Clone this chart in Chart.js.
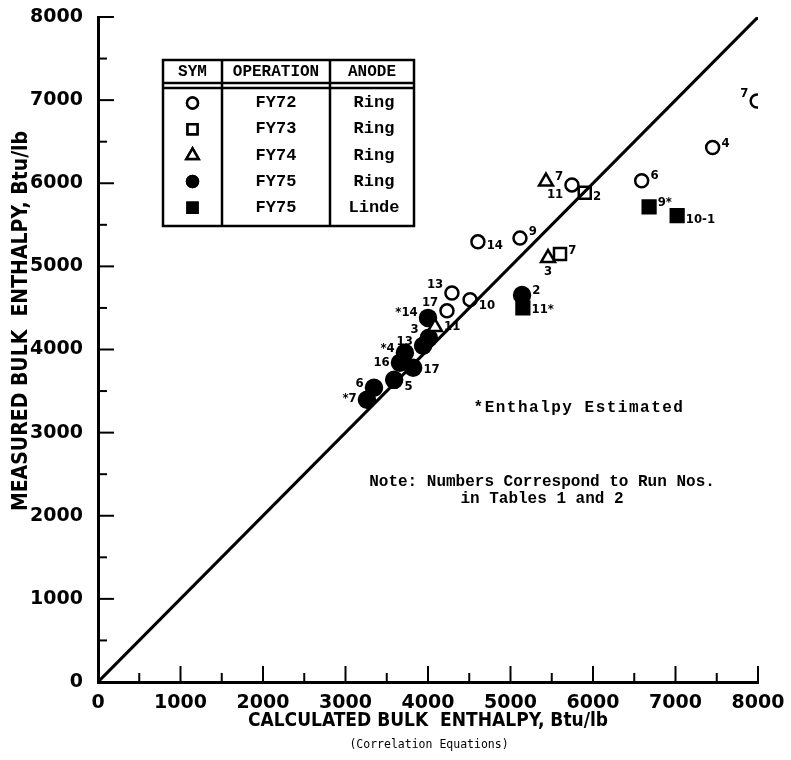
<!DOCTYPE html>
<html>
<head>
<meta charset="utf-8">
<script src="https://cdn.jsdelivr.net/npm/chart.js@4"></script>
<style>
  body { margin: 0; background: #fff; }
</style>
</head>
<body>
<canvas id="chart" width="791" height="760"></canvas>
<script>
// FY72, ring anode (open circles)
const fy72X = [7990, 7450, 6590, 5745, 5115, 4605, 4290, 4230, 4510];
const fy72Y = [6990, 6430, 6030, 5980, 5340, 5295, 4680, 4465, 4600];
const fy72Runs = ["7", "4", "6", "11", "9", "14", "13", "17", "10"];

// FY73, ring anode (open squares)
const fy73X = [5900, 5600];
const fy73Y = [5885, 5150];
const fy73Runs = ["2", "7"];

// FY74, ring anode (open triangles)
const fy74X = [5430, 5455, 4085];
const fy74Y = [6020, 5100, 4270];
const fy74Runs = ["7", "3", "11"];

// FY75, ring anode (filled circles)
const fy75RingX = [5140, 4000, 4010, 3940, 3720, 3660, 3820, 3590, 3345, 3260];
const fy75RingY = [4655, 4380, 4140, 4045, 3960, 3840, 3780, 3635, 3540, 3395];
const fy75RingRuns = ["2", "*14", "3", "13", "*4", "16", "17", "5", "6", "*7"];

// FY75, Linde anode (filled squares)
const fy75LindeX = [6680, 7020, 5150];
const fy75LindeY = [5715, 5610, 4500];
const fy75LindeRuns = ["9*", "10-1", "11*"];

// where each run number sits next to its mark, px beyond the mark edge [dx, dy]
const fy72LabelAt = [[-1, -7], [1, -4], [1, -5], [-1, 10], [1, -6], [1, 4], [-1, -8], [-1, -8], [1, 6]];
const fy73LabelAt = [[1, 4], [1, -3]];
const fy74LabelAt = [[1, -5], [0, 14], [1, 0]];
const fy75RingLabelAt = [[1, -4], [-1, -5], [-1, -8], [-1, -4], [-1, -4], [-1, 0], [1, 2], [1, 7], [-1, -4], [-1, -1]];
const fy75LindeLabelAt = [[1, -4], [1, 4], [1, 2]];

const axisMax = 8000;
const legendRows = [
  ["circle", false, "FY72", "Ring"],
  ["rect", false, "FY73", "Ring"],
  ["triangle", false, "FY74", "Ring"],
  ["circle", true, "FY75", "Ring"],
  ["rect", true, "FY75", "Linde"],
];

const toPoints = (xs, ys) => xs.map((x, i) => ({ x: x, y: ys[i] }));

const series = (label, xs, ys, runs, at, style, filled, radius) => ({
  label: label,
  data: toPoints(xs, ys),
  runs: runs,
  labelAt: at,
  pointStyle: style,
  pointRadius: radius,
  pointBorderWidth: 2.5,
  pointBorderColor: "#000",
  pointBackgroundColor: filled ? "#000" : "#fff",
  showLine: false,
});

// half width of a marker, so labels can hug it
const halfWidth = (ds) => {
  const r = ds.pointRadius + ds.pointBorderWidth / 2;
  if (ds.pointStyle === "rect") return ds.pointRadius * Math.SQRT1_2 + ds.pointBorderWidth / 2;
  if (ds.pointStyle === "triangle") return r * 0.866;
  return r;
};

const MONO = "bold 16px 'Liberation Mono', 'DejaVu Sans Mono', monospace";
const TICK_FONT = { family: "'DejaVu Sans', sans-serif", weight: "bold", size: 19 };
const TITLE_FONT = { family: "'DejaVu Sans Condensed', 'Liberation Sans Narrow', sans-serif", weight: "bold", size: 19 };

// keep edge labels from shrinking the plot area
const noEdgePadding = (s) => {
  s.paddingTop = 0;
  s.paddingBottom = 0;
  s.paddingLeft = 0;
  s.paddingRight = 0;
};

const runLabels = {
  id: "runLabels",
  afterDatasetsDraw(chart) {
    const ctx = chart.ctx;
    const xs = chart.scales.x;
    const ys = chart.scales.y;
    ctx.save();
    ctx.fillStyle = "#000";
    ctx.font = "bold 13px 'DejaVu Sans Condensed', 'DejaVu Sans', sans-serif";
    ctx.textBaseline = "middle";
    chart.data.datasets.forEach((ds) => {
      if (!ds.runs) return;
      const hw = halfWidth(ds);
      ds.data.forEach((p, i) => {
        const [dx, dy] = ds.labelAt[i];
        const px = xs.getPixelForValue(p.x);
        const py = ys.getPixelForValue(p.y);
        ctx.textAlign = dx < 0 ? "right" : dx > 0 ? "left" : "center";
        const r = dx === 0 ? 0 : Math.sign(dx) * hw;
        ctx.fillText(ds.runs[i], px + r + dx, py + dy);
      });
    });
    ctx.restore();
  },
};

const axisTicks = {
  id: "axisTicks",
  afterDraw(chart) {
    const ctx = chart.ctx;
    const a = chart.chartArea;
    const xs = chart.scales.x;
    const ys = chart.scales.y;
    ctx.save();
    ctx.strokeStyle = "#000";
    ctx.lineWidth = 2;
    for (let v = 500; v <= axisMax; v += 500) {
      const len = v % 1000 === 0 ? 16 : 9;
      const px = xs.getPixelForValue(v);
      ctx.beginPath();
      ctx.moveTo(px, a.bottom);
      ctx.lineTo(px, a.bottom - len);
      ctx.stroke();
      const py = ys.getPixelForValue(v);
      ctx.beginPath();
      ctx.moveTo(a.left, py);
      ctx.lineTo(a.left + len, py);
      ctx.stroke();
    }
    ctx.restore();
  },
};

const notes = {
  id: "notes",
  afterDraw(chart) {
    const ctx = chart.ctx;
    ctx.save();
    ctx.fillStyle = "#000";
    ctx.textBaseline = "middle";
    ctx.textAlign = "center";

    // y axis title, drawn by hand to sit where the original has it
    ctx.save();
    ctx.translate(22, 321);
    ctx.rotate(-Math.PI / 2);
    ctx.font = `bold 21px ${TITLE_FONT.family}`;
    ctx.fillText("MEASURED BULK  ENTHALPY, Btu/lb", 0, 0);
    ctx.restore();

    ctx.font = MONO;
    ctx.letterSpacing = "1.5px";
    ctx.fillText("*Enthalpy Estimated", 579, 408);
    ctx.letterSpacing = "0px";
    ctx.fillText("Note: Numbers Correspond to Run Nos.", 542, 482);
    ctx.fillText("in Tables 1 and 2", 542, 499);
    ctx.font = "11.5px 'DejaVu Sans Mono', monospace";
    ctx.fillText("(Correlation Equations)", 429, 745);

    // symbol table
    const L = 163, C1 = 222, C2 = 330, R = 414, T = 60, H1 = 83, H2 = 88, B = 226;
    ctx.strokeStyle = "#000";
    ctx.lineWidth = 2.5;
    ctx.strokeRect(L, T, R - L, B - T);
    ctx.beginPath();
    ctx.moveTo(L, H1); ctx.lineTo(R, H1);
    ctx.moveTo(L, H2); ctx.lineTo(R, H2);
    ctx.moveTo(C1, T); ctx.lineTo(C1, B);
    ctx.moveTo(C2, T); ctx.lineTo(C2, B);
    ctx.stroke();
    ctx.font = "bold 16px 'Liberation Mono', 'DejaVu Sans Mono', monospace";
    ctx.fillText("SYM", (L + C1) / 2, 72);
    ctx.fillText("OPERATION", (C1 + C2) / 2, 72);
    ctx.fillText("ANODE", (C2 + R) / 2, 72);
    ctx.font = "bold 17px 'Liberation Mono', 'DejaVu Sans Mono', monospace";
    legendRows.forEach((row, i) => {
      const y = 103 + i * 26.2;
      ctx.fillStyle = "#000";
      ctx.fillText(row[2], (C1 + C2) / 2, y);
      ctx.fillText(row[3], (C2 + R) / 2 + 2, y);
      Chart.helpers.drawPoint(ctx, {
        pointStyle: row[0],
        radius: row[0] === "circle" ? 5.5 : 7,
        borderWidth: 2.2,
        rotation: 0,
      }, (L + C1) / 2, y);
      ctx.fillStyle = row[1] ? "#000" : "#fff";
      ctx.fill();
      ctx.stroke();
    });
    ctx.restore();
  },
};

new Chart(document.getElementById("chart"), {
  type: "scatter",
  data: {
    datasets: [
      {
        label: "Equality",
        data: [{ x: 0, y: 0 }, { x: axisMax, y: axisMax }],
        showLine: true,
        borderColor: "#000",
        borderWidth: 3,
        pointRadius: 0,
      },
      series("FY72 Ring", fy72X, fy72Y, fy72Runs, fy72LabelAt, "circle", false, 6.5),
      series("FY73 Ring", fy73X, fy73Y, fy73Runs, fy73LabelAt, "rect", false, 8.5),
      series("FY74 Ring", fy74X, fy74Y, fy74Runs, fy74LabelAt, "triangle", false, 8),
      series("FY75 Ring", fy75RingX, fy75RingY, fy75RingRuns, fy75RingLabelAt, "circle", true, 8),
      series("FY75 Linde", fy75LindeX, fy75LindeY, fy75LindeRuns, fy75LindeLabelAt, "rect", true, 9),
    ],
  },
  options: {
    responsive: false,
    animation: false,
    devicePixelRatio: 1,
    layout: { padding: { top: 17, right: 33, left: 0, bottom: 0 } },
    plugins: {
      legend: { display: false },
      tooltip: { enabled: false },
    },
    scales: {
      x: {
        type: "linear",
        min: 0,
        max: axisMax,
        afterFit: (s) => { s.height = 78; noEdgePadding(s); },
        grid: { display: false, drawTicks: false },
        border: { display: true, width: 3, color: "#000" },
        ticks: {
          stepSize: 1000,
          padding: 10,
          color: "#000",
          font: TICK_FONT,
          callback: (value) => `${value}`,
        },
        title: {
          display: true,
          text: "CALCULATED BULK  ENTHALPY, Btu/lb",
          color: "#000",
          padding: { top: 2, bottom: 28 },
          font: TITLE_FONT,
        },
      },
      y: {
        type: "linear",
        min: 0,
        max: axisMax,
        afterFit: (s) => { s.width = 98; noEdgePadding(s); },
        grid: { display: false, drawTicks: false },
        border: { display: true, width: 3, color: "#000" },
        ticks: {
          stepSize: 1000,
          padding: 15,
          color: "#000",
          font: TICK_FONT,
          callback: (value) => `${value}`,
        },
        title: { display: false },
      },
    },
  },
  plugins: [runLabels, axisTicks, notes],
});
</script>
</body>
</html>
